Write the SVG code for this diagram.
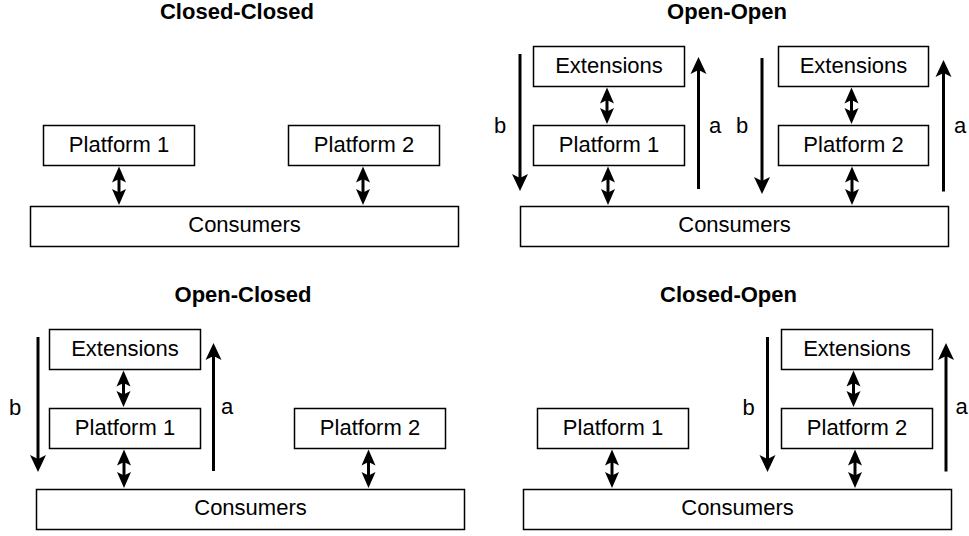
<svg xmlns="http://www.w3.org/2000/svg" width="969" height="536" viewBox="0 0 969 536">
<style>
  .box { fill: #ffffff; stroke: #000000; stroke-width: 1.5; }
  .lbl { font-family: "Liberation Sans", Arial, Helvetica, sans-serif; font-size: 22px; fill: #000000; text-anchor: middle; }
  .title { font-family: "Liberation Sans", Arial, Helvetica, sans-serif; font-size: 22px; font-weight: bold; fill: #000000; text-anchor: middle; }
  .dbl { stroke: #000000; stroke-width: 3; fill: none; marker-start: url(#dhead); marker-end: url(#dhead); }
  .one { stroke: #000000; stroke-width: 3; fill: none; marker-end: url(#head); }
</style>
<defs>
  <marker id="head" markerUnits="userSpaceOnUse" viewBox="-20 -20 40 40" markerWidth="40" markerHeight="40" refX="0" refY="0" orient="auto">
    <path d="M -6 -8 L 11 0 L -6 8 L -2 0 Z" fill="#000000"/>
  </marker>
  <marker id="dhead" markerUnits="userSpaceOnUse" viewBox="-20 -20 40 40" markerWidth="40" markerHeight="40" refX="0" refY="0" orient="auto-start-reverse">
    <path d="M -5 -7 L 11 0 L -5 7 L -1.5 0 Z" fill="#000000"/>
  </marker>
</defs>

<!-- Titles -->
<text class="title" x="237" y="19">Closed-Closed</text>
<text class="title" x="727" y="19">Open-Open</text>
<text class="title" x="243" y="301.5">Open-Closed</text>
<text class="title" x="728.5" y="301.5">Closed-Open</text>

<!-- Panel 1: Closed-Closed -->
<g id="cc-platform1"><rect class="box" x="43.5" y="125.5" width="151" height="40"/><text class="lbl" x="119" y="152">Platform 1</text></g>
<g id="cc-platform2"><rect class="box" x="288.5" y="125.5" width="151" height="40"/><text class="lbl" x="364" y="152">Platform 2</text></g>
<g id="cc-consumers"><rect class="box" x="30.5" y="206.5" width="428" height="40"/><text class="lbl" x="244.5" y="232">Consumers</text></g>

<!-- Panel 2: Open-Open -->
<g id="oo-ext1"><rect class="box" x="533.5" y="46.5" width="151" height="40"/><text class="lbl" x="609" y="73">Extensions</text></g>
<g id="oo-platform1"><rect class="box" x="533.5" y="125.5" width="151" height="40"/><text class="lbl" x="609" y="152">Platform 1</text></g>
<g id="oo-ext2"><rect class="box" x="778.5" y="46.5" width="150" height="40"/><text class="lbl" x="853.5" y="73">Extensions</text></g>
<g id="oo-platform2"><rect class="box" x="778.5" y="125.5" width="150" height="40"/><text class="lbl" x="853.5" y="152">Platform 2</text></g>
<g id="oo-consumers"><rect class="box" x="520.5" y="206.5" width="428" height="40"/><text class="lbl" x="734.5" y="232">Consumers</text></g>

<!-- Panel 3: Open-Closed -->
<g id="oc-ext"><rect class="box" x="49.5" y="329.5" width="151" height="40"/><text class="lbl" x="125" y="356">Extensions</text></g>
<g id="oc-platform1"><rect class="box" x="49.5" y="408.5" width="151" height="40"/><text class="lbl" x="125" y="435">Platform 1</text></g>
<g id="oc-platform2"><rect class="box" x="294.5" y="408.5" width="151" height="40"/><text class="lbl" x="370" y="435">Platform 2</text></g>
<g id="oc-consumers"><rect class="box" x="36.5" y="489.5" width="428" height="40"/><text class="lbl" x="250.5" y="515">Consumers</text></g>

<!-- Panel 4: Closed-Open -->
<g id="co-platform1"><rect class="box" x="537.5" y="408.5" width="151" height="40"/><text class="lbl" x="613" y="435">Platform 1</text></g>
<g id="co-ext"><rect class="box" x="781.5" y="329.5" width="151" height="40"/><text class="lbl" x="857" y="356">Extensions</text></g>
<g id="co-platform2"><rect class="box" x="781.5" y="408.5" width="151" height="40"/><text class="lbl" x="857" y="435">Platform 2</text></g>
<g id="co-consumers"><rect class="box" x="523.5" y="489.5" width="428" height="40"/><text class="lbl" x="737.5" y="515">Consumers</text></g>

<g id="connectors">
  <!-- Closed-Closed -->
  <line class="dbl" x1="119" y1="177.5" x2="119" y2="194"/>
  <line class="dbl" x1="363" y1="177.5" x2="363" y2="194"/>
  <!-- Open-Open -->
  <line class="dbl" x1="607" y1="98.5" x2="607" y2="113"/>
  <line class="dbl" x1="608" y1="177.5" x2="608" y2="194"/>
  <line class="dbl" x1="851.5" y1="98.5" x2="851.5" y2="113"/>
  <line class="dbl" x1="852" y1="177.5" x2="852" y2="194"/>
  <line class="one" x1="520" y1="54" x2="520" y2="180"/>
  <line class="one" x1="698.5" y1="189" x2="698.5" y2="68"/>
  <line class="one" x1="762" y1="58" x2="762" y2="183"/>
  <line class="one" x1="943.5" y1="191.5" x2="943.5" y2="71"/>
  <!-- Open-Closed -->
  <line class="dbl" x1="123.5" y1="381.5" x2="123.5" y2="396"/>
  <line class="dbl" x1="124" y1="460.5" x2="124" y2="477"/>
  <line class="dbl" x1="368.5" y1="460.5" x2="368.5" y2="477"/>
  <line class="one" x1="38" y1="337" x2="38" y2="461"/>
  <line class="one" x1="213.5" y1="471" x2="213.5" y2="354"/>
  <!-- Closed-Open -->
  <line class="dbl" x1="612" y1="460.5" x2="612" y2="477"/>
  <line class="dbl" x1="853.5" y1="381.5" x2="853.5" y2="396"/>
  <line class="dbl" x1="855" y1="460.5" x2="855" y2="477"/>
  <line class="one" x1="767.5" y1="337" x2="767.5" y2="461"/>
  <line class="one" x1="946" y1="471.5" x2="946" y2="354"/>
</g>

<!-- a / b labels -->
<text class="lbl" x="500" y="133">b</text>
<text class="lbl" x="715" y="133">a</text>
<text class="lbl" x="742" y="133">b</text>
<text class="lbl" x="960" y="133">a</text>
<text class="lbl" x="15" y="415">b</text>
<text class="lbl" x="227" y="414">a</text>
<text class="lbl" x="748.5" y="415">b</text>
<text class="lbl" x="961.5" y="414">a</text>
</svg>
